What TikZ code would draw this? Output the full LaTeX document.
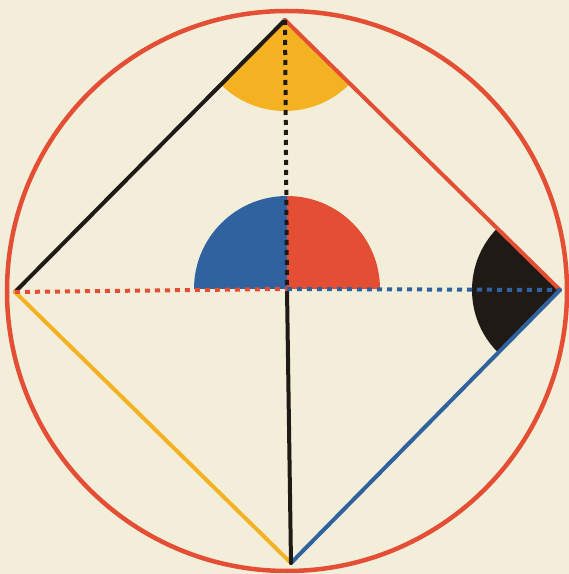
\documentclass[tikz,border=0pt]{standalone}
\usepackage{tikz}
\definecolor{byrnered}{RGB}{228,78,52}
\definecolor{byrneblue}{RGB}{48,98,160}
\definecolor{byrneyellow}{RGB}{244,178,34}
\definecolor{byrneblack}{RGB}{32,26,22}
\definecolor{byrnepaper}{RGB}{242,238,218}
\tikzset{
    byrneline/.style={line width=4pt, line cap=round},
    byrnedots/.style={line width=4pt, dash pattern=on 5pt off 5pt},
    byrnesector/.style={draw=none}
}

\begin{document}
\begin{tikzpicture}[x=1pt, y=1pt]
        \fill[byrnepaper] (0,0) rectangle (569,574);
        \useasboundingbox (0,0) rectangle (569,574);

        \coordinate (top) at (285,554);
        \coordinate (left) at (15,282);
        \coordinate (right) at (560,284);
        \coordinate (bottom) at (291,11);
        \coordinate (centre) at (287,285);
        \coordinate (middle) at (287,283);

        % angles
        \fill[byrnesector, byrneyellow] (top) -- ++(-135:91) arc (-135:-45:91) -- cycle;
        \fill[byrnesector, byrneblue] (centre) -- ++(180:93) arc (180:90:93) -- cycle;
        \fill[byrnesector, byrnered] (centre) -- ++(90:93) arc (90:0:93) -- cycle;
        \fill[byrnesector, byrneblack] (right) -- ++(135:88) arc (135:225:88) -- cycle;

        % sides of the square
        \draw[byrneline, byrneblack] (top) -- (left);
        \draw[byrneline, byrnered] (top) -- (right);
        \draw[byrneline, byrneyellow] (left) -- (bottom);
        \draw[byrneline, byrneblue] (right) -- (bottom);

        % diameters
        \draw[byrnedots, byrneblack] (top) -- (centre);
        \draw[byrneline, byrneblack] (centre) -- (bottom);
        \draw[byrnedots, byrnered] (left) -- (centre);
        \draw[byrnedots, byrneblue] (centre) -- (right);

        \draw[line width=4.5pt, byrnered] (middle) circle (280);
    \end{tikzpicture}
\end{document}
